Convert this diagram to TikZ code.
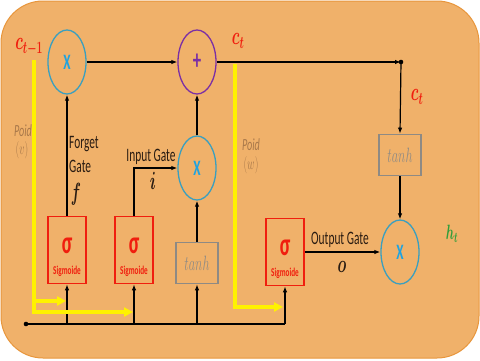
\documentclass[tikz,border=0pt]{standalone}
\usepackage{fontspec}
\setmainfont{Carlito}
\usepackage{graphicx}
\usetikzlibrary{arrows.meta,shapes.geometric,calc}
\definecolor{bgfill}{HTML}{F0B16A}
\definecolor{bgline}{HTML}{E8963C}
\definecolor{cblue}{HTML}{3A9FBF}
\definecolor{xblue}{HTML}{1FA3E0}
\definecolor{cpurple}{HTML}{7B2FA5}
\definecolor{cred}{HTML}{F01E0E}
\definecolor{tgray}{HTML}{8E8A84}
\definecolor{cyel}{HTML}{FFF200}
\definecolor{poid}{HTML}{A8784A}
\definecolor{dtext}{HTML}{2A1C12}
\definecolor{cgreen}{HTML}{2F9E3A}
\newcommand{\hsq}[1]{\scalebox{0.6}[1]{#1}}
\begin{document}
\begin{tikzpicture}[x=1pt,y=-1pt,
  ellnode/.style={ellipse,draw=cblue,line width=1.3pt,minimum width=38pt,minimum height=64pt,inner sep=0pt,text=xblue,font=\fontsize{22}{22}\selectfont\bfseries},
  sigbox/.style={rectangle,draw=cred,line width=1.6pt,minimum width=38pt,minimum height=67pt,inner sep=0pt},
  tanhbox/.style={rectangle,draw=tgray,line width=1.6pt,minimum width=42pt,minimum height=41pt,inner sep=0pt,text=tgray,font=\fontsize{22}{22}\selectfont},
  sigtext/.style={text=cred,inner sep=0pt,font=\fontsize{32}{32}\selectfont\bfseries},
  sigsub/.style={text=cred,inner sep=0pt,font=\fontsize{12}{12}\selectfont\bfseries},
  arr/.style={draw=black,line width=1.2pt,-{Latex[length=6pt,width=4.5pt]}},
  bus/.style={draw=black,line width=1.2pt},
  yl/.style={draw=cyel,line width=3.2pt,-{Triangle[length=9pt,width=9pt]}},
  gate/.style={text=dtext,inner sep=0pt,font=\fontsize{19}{19}\selectfont},
  mathlbl/.style={text=dtext,inner sep=0pt,font=\fontsize{23}{23}\selectfont\boldmath},
  clbl/.style={text=cred,inner sep=0pt,font=\fontsize{24}{24}\selectfont\boldmath},
  hlbl/.style={text=cgreen,inner sep=0pt,font=\fontsize{22}{22}\selectfont\boldmath},
  poidlbl/.style={text=poid,inner sep=0pt,font=\fontsize{17}{17}\selectfont\itshape},
  dot/.style={fill=black}
]
\useasboundingbox (0,0) rectangle (480,360);
\fill[white] (0,0) rectangle (480,360);
\draw[draw=bgline,fill=bgfill,line width=1pt,rounded corners=42pt] (1,1) rectangle (479,358);

% operation nodes
\node[ellnode] (fx) at (67,62) {\hsq{X}};
\node[ellnode,draw=cpurple,text=cpurple,font=\fontsize{28}{28}\selectfont\bfseries] (plus) at (197,62) {\hsq{+}};
\node[ellnode] (ix) at (197,168) {\hsq{X}};
\node[ellnode] (ox) at (400,252) {\hsq{X}};

% gate boxes
\node[sigbox] (fs) at (67,250) {};
\node[sigbox] (is) at (134,250) {};
\node[sigbox] (os) at (285,252) {};
\node[tanhbox] (tb) at (197,263) {\hsq{$tanh$}};
\node[tanhbox] (tt) at (400,155) {\hsq{$tanh$}};

\node[sigtext] (fsg) at ($(fs.center)+(0,-4)$) {\hsq{σ}};
\node[sigsub] (fss) at ($(fs.center)+(0,21)$) {\hsq{Sigmoide}};
\node[sigtext] (isg) at ($(is.center)+(0,-4)$) {\hsq{σ}};
\node[sigsub] (iss) at ($(is.center)+(0,21)$) {\hsq{Sigmoide}};
\node[sigtext] (osg) at ($(os.center)+(0,-4)$) {\hsq{σ}};
\node[sigsub] (oss) at ($(os.center)+(0,21)$) {\hsq{Sigmoide}};

% connectors
\coordinate (d1) at (401,62);
\draw[arr] (fx.east) -- (plus.west);
\draw[arr] (plus.east) -- (d1);
\fill[dot] (d1) circle (2.3pt);
\draw[arr] (d1) -- (tt.north);
\draw[arr] (tt.south) -- (ox.north);
\draw[arr] (fs.north) -- (fx.south);
\draw[arr] (is.north) |- (ix.west);
\draw[arr] (ix.north) -- (plus.south);
\draw[arr] (tb.north) -- (ix.south);
\draw[arr] (os.east) -- (ox.west);

% bottom bus
\coordinate (b0) at (26,324);
\fill[dot] (b0) circle (2.3pt);
\draw[bus] (b0) -- (os.south |- b0);
\draw[arr] (os.south |- b0) -- (os.south);
\draw[arr] (fs.south |- b0) -- (fs.south);
\draw[arr] (is.south |- b0) -- (is.south);
\draw[arr] (tb.south |- b0) -- (tb.south);

% yellow weight lines
\coordinate (ytop) at (34,60);
\coordinate (ya) at (34,301);
\coordinate (yb) at (34,312);
\draw[yl] (ytop) -- (yb) -- ($(is.south |- yb)+(-1,0)$);
\draw[yl] (ya) -- ($(fs.south |- ya)+(-1,0)$);
\coordinate (ytop2) at (235,64);
\coordinate (yc) at (235,307);
\draw[yl] (ytop2) -- (yc) -- ($(os.south |- yc)+(-2,0)$);

% labels
\node[clbl] (lc1) at (29,47) {\hsq{$c_{t-1}$}};
\node[clbl] (lc2) at (238,41) {\hsq{$c_t$}};
\node[clbl] (lc3) at (417,97) {\hsq{$c_t$}};
\node[hlbl] (lh) at (452,234) {\hsq{$h_t$}};
\node[poidlbl] (pv1) at (23,131) {\hsq{Poid}};
\node[poidlbl] (pv2) at (22,150) {\hsq{$(v)$}};
\node[poidlbl] (pw1) at (251,145) {\hsq{Poid}};
\node[poidlbl] (pw2) at (251,165) {\hsq{$(w)$}};
\node[gate,anchor=base west] (fg1) at (69,148) {\hsq{Forget}};
\node[gate,anchor=base west] (fg2) at (69,172) {\hsq{Gate}};
\node[mathlbl] (fgf) at (76,194) {\hsq{$f$}};
\node[gate,anchor=base] (ig) at (151,161) {\hsq{Input Gate}};
\node[mathlbl] (igi) at (153,181) {\hsq{$i$}};
\node[gate,anchor=base] (og) at (340,244) {\hsq{Output Gate}};
\node[mathlbl] (ogo) at (342,267) {\hsq{$o$}};
\end{tikzpicture}
\end{document}
